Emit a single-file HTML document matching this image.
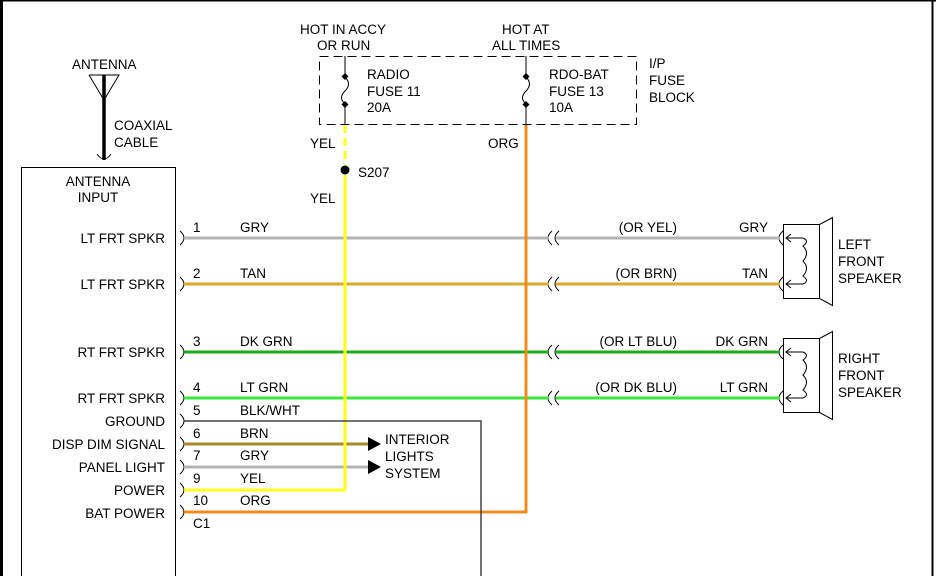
<!DOCTYPE html>
<html><head><style>
html,body{margin:0;padding:0;background:#fff}
svg{display:block}
text{font-family:"Liberation Sans",Arial,sans-serif;font-size:13.5px;fill:#000}
</style></head><body>
<svg width="936" height="576" viewBox="0 0 936 576" xmlns="http://www.w3.org/2000/svg">
<rect x="0" y="0" width="936" height="576" fill="#fff"/>
<rect x="0" y="0" width="3" height="576" fill="#000"/>
<rect x="0" y="0" width="936" height="1.5" fill="#000"/>
<rect x="931.5" y="0" width="2" height="576" fill="#000"/>

<!-- antenna -->
<text x="72" y="69">ANTENNA</text>
<polyline points="89,75 119,75 104,100 89,75" fill="none" stroke="#000" stroke-width="1"/>
<line x1="104" y1="75" x2="104" y2="160" stroke="#000" stroke-width="3.5"/>
<path d="M97,154 Q104,164 111,154" fill="none" stroke="#000" stroke-width="1"/>
<text x="114" y="130">COAXIAL</text>
<text x="114" y="147">CABLE</text>

<!-- radio box -->
<rect x="21.5" y="167.5" width="154" height="420" fill="none" stroke="#000" stroke-width="1"/>
<text x="98" y="186" text-anchor="middle">ANTENNA</text>
<text x="98" y="202" text-anchor="middle">INPUT</text>
<g text-anchor="end">
<text x="165" y="243">LT FRT SPKR</text>
<text x="165" y="289">LT FRT SPKR</text>
<text x="165" y="357">RT FRT SPKR</text>
<text x="165" y="403">RT FRT SPKR</text>
<text x="165" y="426">GROUND</text>
<text x="165" y="449">DISP DIM SIGNAL</text>
<text x="165" y="472">PANEL LIGHT</text>
<text x="165" y="495">POWER</text>
<text x="165" y="518">BAT POWER</text>
</g>

<!-- connector brackets -->
<g fill="none" stroke="#000" stroke-width="1">
<path d="M180,231 Q188,238 180,245"/>
<path d="M180,277 Q188,284 180,291"/>
<path d="M180,345 Q188,352 180,359"/>
<path d="M180,391 Q188,398 180,405"/>
<path d="M180,414 Q188,421 180,428"/>
<path d="M180,437 Q188,444 180,451"/>
<path d="M180,460 Q188,467 180,474"/>
<path d="M180,483 Q188,490 180,497"/>
<path d="M180,505 Q188,512 180,519"/>
<path d="M552,231 Q544,238 552,245"/><path d="M559,231 Q551,238 559,245"/>
<path d="M552,277 Q544,284 552,291"/><path d="M559,277 Q551,284 559,291"/>
<path d="M552,345 Q544,352 552,359"/><path d="M559,345 Q551,352 559,359"/>
<path d="M552,391 Q544,398 552,405"/><path d="M559,391 Q551,398 559,405"/>
<path d="M783,231 Q775,238 783,245"/>
<path d="M783,277 Q775,284 783,291"/>
<path d="M783,345 Q775,352 783,359"/>
<path d="M783,391 Q775,398 783,405"/>
</g>

<!-- wires -->
<g stroke-width="3" fill="none">
<line x1="184" y1="238" x2="549" y2="238" stroke="#b4b4b4"/>
<line x1="556" y1="238" x2="780" y2="238" stroke="#b4b4b4"/>
<line x1="184" y1="284" x2="549" y2="284" stroke="#dcaa28"/>
<line x1="556" y1="284" x2="780" y2="284" stroke="#dcaa28"/>
<line x1="184" y1="352" x2="549" y2="352" stroke="#1eaa1e"/>
<line x1="556" y1="352" x2="780" y2="352" stroke="#1eaa1e"/>
<line x1="184" y1="398" x2="549" y2="398" stroke="#3ce63c"/>
<line x1="556" y1="398" x2="780" y2="398" stroke="#3ce63c"/>
<line x1="184" y1="444" x2="368" y2="444" stroke="#aa8a28"/>
<line x1="184" y1="467" x2="368" y2="467" stroke="#b4b4b4"/>
<polyline points="184,490 345,490 345,175" stroke="#ffff1e"/>
<line x1="345" y1="125" x2="345" y2="165" stroke="#ffff1e" stroke-dasharray="8,5"/>
<polyline points="184,512 526,512 526,125" stroke="#f08c1e"/>
</g>
<polyline points="184,421 481,421 481,576" fill="none" stroke="#444" stroke-width="1.5"/>
<polygon points="368,437 381,444 368,451" fill="#000"/>
<polygon points="368,460 381,467 368,474" fill="#000"/>
<text x="385" y="444">INTERIOR</text>
<text x="385" y="461">LIGHTS</text>
<text x="385" y="478">SYSTEM</text>

<!-- wire labels -->
<text x="193" y="232">1</text><text x="240" y="232">GRY</text>
<text x="193" y="278">2</text><text x="240" y="278">TAN</text>
<text x="193" y="346">3</text><text x="240" y="346">DK GRN</text>
<text x="193" y="392">4</text><text x="240" y="392">LT GRN</text>
<text x="193" y="415">5</text><text x="240" y="415">BLK/WHT</text>
<text x="193" y="438">6</text><text x="240" y="438">BRN</text>
<text x="193" y="460">7</text><text x="240" y="460">GRY</text>
<text x="193" y="483">9</text><text x="240" y="483">YEL</text>
<text x="193" y="505">10</text><text x="240" y="505">ORG</text>
<text x="193" y="528">C1</text>
<g text-anchor="end">
<text x="677" y="232">(OR YEL)</text><text x="768" y="232">GRY</text>
<text x="677" y="278">(OR BRN)</text><text x="768" y="278">TAN</text>
<text x="677" y="346">(OR LT BLU)</text><text x="768" y="346">DK GRN</text>
<text x="677" y="392">(OR DK BLU)</text><text x="768" y="392">LT GRN</text>
</g>

<!-- fuse block -->
<rect x="319.5" y="56.5" width="317" height="68" fill="none" stroke="#000" stroke-width="1" stroke-dasharray="9,5"/>
<text x="300" y="34">HOT IN ACCY</text>
<text x="317" y="50">OR RUN</text>
<text x="502" y="34">HOT AT</text>
<text x="492" y="50">ALL TIMES</text>
<text x="649" y="68">I/P</text>
<text x="649" y="85">FUSE</text>
<text x="649" y="102">BLOCK</text>
<g stroke="#000" stroke-width="1" fill="none">
<line x1="345" y1="56" x2="345" y2="76"/><line x1="345" y1="105" x2="345" y2="125"/>
<path d="M345,77 Q352,84 345,91 Q338,98 345,104"/>
<line x1="526" y1="56" x2="526" y2="76"/><line x1="526" y1="105" x2="526" y2="125"/>
<path d="M526,77 Q533,84 526,91 Q519,98 526,104"/>
</g>
<g fill="#000">
<polygon points="345,73 348.5,76.5 345,80 341.5,76.5"/>
<polygon points="345,101 348.5,104.5 345,108 341.5,104.5"/>
<polygon points="526,73 529.5,76.5 526,80 522.5,76.5"/>
<polygon points="526,101 529.5,104.5 526,108 522.5,104.5"/>
<circle cx="345" cy="170" r="4.5"/>
</g>
<text x="367" y="79">RADIO</text><text x="367" y="96">FUSE 11</text><text x="367" y="112">20A</text>
<text x="549" y="79">RDO-BAT</text><text x="549" y="96">FUSE 13</text><text x="549" y="112">10A</text>
<text x="310" y="148">YEL</text>
<text x="358" y="177">S207</text>
<text x="310" y="203">YEL</text>
<text x="488" y="148">ORG</text>

<!-- speakers -->
<g fill="none" stroke="#000" stroke-width="1">
<rect x="783.5" y="224.5" width="36" height="74"/>
<polygon points="819.5,224.5 832.5,217.5 832.5,305.5 819.5,298.5"/>
<path d="M786,238 H803 Q810,241 803,246 Q810,253 803,261 Q810,268 803,276 Q810,281 803,284 H786"/>
<path d="M791,234 L786,238 L791,242 M791,280 L786,284 L791,288"/>
<rect x="783.5" y="338.5" width="36" height="74"/>
<polygon points="819.5,338.5 832.5,331.5 832.5,419.5 819.5,412.5"/>
<path d="M786,352 H803 Q810,355 803,360 Q810,367 803,375 Q810,382 803,390 Q810,395 803,398 H786"/>
<path d="M791,348 L786,352 L791,356 M791,394 L786,398 L791,402"/>
</g>
<text x="838" y="249">LEFT</text><text x="838" y="266">FRONT</text><text x="838" y="283">SPEAKER</text>
<text x="838" y="363">RIGHT</text><text x="838" y="380">FRONT</text><text x="838" y="397">SPEAKER</text>
</svg>
</body></html>
